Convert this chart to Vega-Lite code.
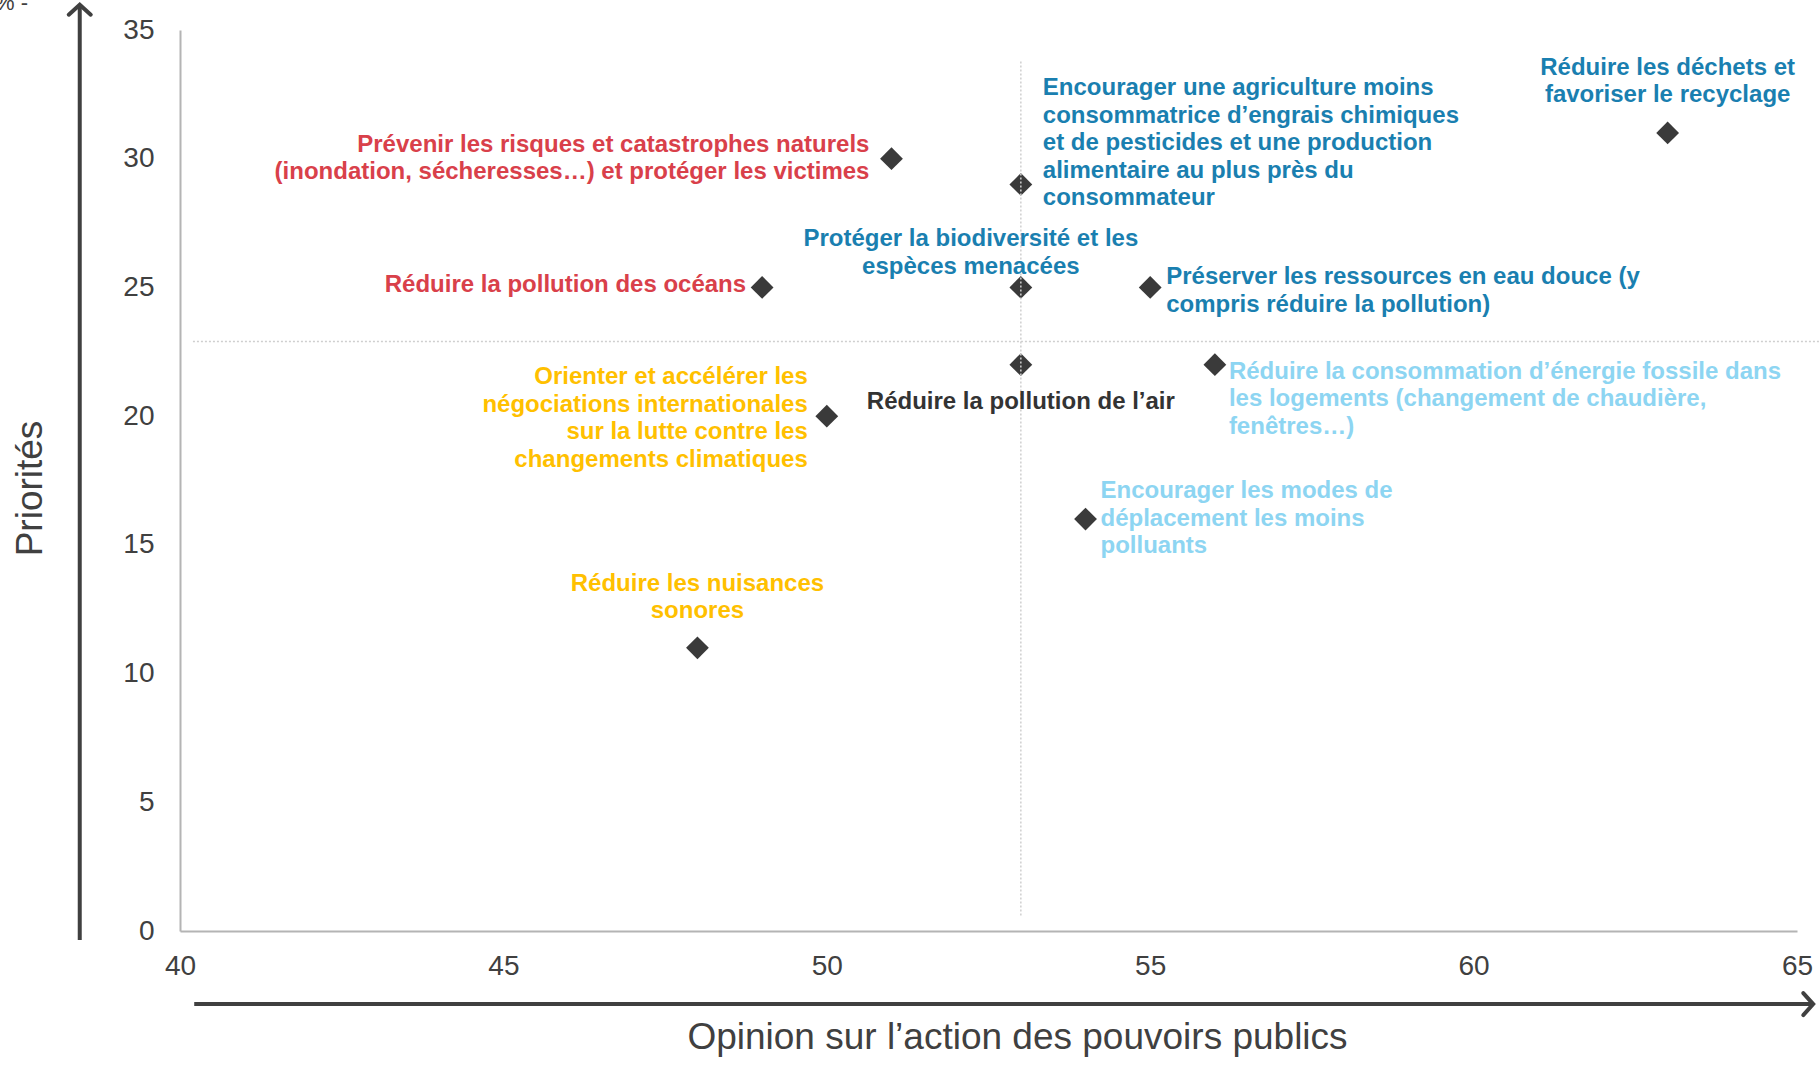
{
  "$schema": "https://vega.github.io/schema/vega-lite/v6.json",
  "autosize": {"type": "none"},
  "width": 1617,
  "height": 901,
  "padding": {"left": 180, "top": 30, "right": 22, "bottom": 134},
  "background": "white",
  "config": {"view": {"stroke": null}, "font": "Liberation Sans"},
  "datasets": {
    "points": [
      {"id": 1, "label": "Prévenir les risques et catastrophes naturels\n(inondation, sécheresses…) et protéger les victimes", "opinion": 51, "priorite": 30, "groupe": "Risques"},
      {"id": 2, "label": "Encourager une agriculture moins\nconsommatrice d’engrais chimiques\net de pesticides et une production\nalimentaire au plus près du\nconsommateur", "opinion": 53, "priorite": 29, "groupe": "Ressources"},
      {"id": 3, "label": "Réduire les déchets et\nfavoriser le recyclage", "opinion": 63, "priorite": 31, "groupe": "Ressources"},
      {"id": 4, "label": "Réduire la pollution des océans", "opinion": 49, "priorite": 25, "groupe": "Risques"},
      {"id": 5, "label": "Protéger la biodiversité et les\nespèces menacées", "opinion": 53, "priorite": 25, "groupe": "Ressources"},
      {"id": 6, "label": "Préserver les ressources en eau douce (y\ncompris réduire la pollution)", "opinion": 55, "priorite": 25, "groupe": "Ressources"},
      {"id": 7, "label": "Réduire la pollution de l’air", "opinion": 53, "priorite": 22, "groupe": "Air"},
      {"id": 8, "label": "Réduire la consommation d’énergie fossile dans\nles logements (changement de chaudière,\nfenêtres…)", "opinion": 56, "priorite": 22, "groupe": "Énergie"},
      {"id": 9, "label": "Orienter et accélérer les\nnégociations internationales\nsur la lutte contre les\nchangements climatiques", "opinion": 50, "priorite": 20, "groupe": "Climat"},
      {"id": 10, "label": "Encourager les modes de\ndéplacement les moins\npolluants", "opinion": 54, "priorite": 16, "groupe": "Énergie"},
      {"id": 11, "label": "Réduire les nuisances\nsonores", "opinion": 48, "priorite": 11, "groupe": "Climat"}
    ],
    "reperes": [
      {"opinion": 53, "opinion2": 53, "priorite": 0.6, "priorite2": 33.8},
      {"opinion": 40.2, "opinion2": 65.35, "priorite": 22.9, "priorite2": 22.9}
    ],
    "fleches": [
      {"opinion": 38.45, "opinion2": 38.45, "priorite": -0.35, "priorite2": 35.9},
      {"opinion": 40.22, "opinion2": 65.23, "priorite": -2.84, "priorite2": -2.84}
    ],
    "pointes": [
      {"opinion": 38.45, "priorite": 35.98, "sens": "haut"},
      {"opinion": 65.25, "priorite": -2.84, "sens": "droite"}
    ],
    "unite": [
      {"opinion": 37.14, "priorite": 35.78, "texte": "% -"}
    ]
  },
  "layer": [
    {
      "data": {"name": "points"},
      "mark": {"type": "point", "shape": "diamond", "filled": true, "size": 520, "color": "#3A3A3A", "opacity": 1},
      "encoding": {
        "x": {"field": "opinion", "type": "quantitative", "title": "Opinion sur l’action des pouvoirs publics",
          "scale": {"domain": [40, 65], "nice": false, "zero": false},
          "axis": {"values": [40, 45, 50, 55, 60, 65], "format": "d", "grid": false, "ticks": false, "tickSize": 0, "domainColor": "#B4B4B4", "domainWidth": 2,
            "labelFont": "Liberation Sans", "labelFontSize": 28, "labelColor": "#404040", "labelPadding": 21, "labelFlush": false, "labelOverlap": false,
            "titleFont": "Liberation Sans", "titleFontSize": 37, "titleFontWeight": "normal", "titleColor": "#404040",
            "titleX": 837, "titleY": 106, "titleAlign": "center", "titleBaseline": "middle", "titleAnchor": null}},
        "y": {"field": "priorite", "type": "quantitative", "title": "Priorités",
          "scale": {"domain": [0, 35], "nice": false, "zero": false},
          "axis": {"values": [0, 5, 10, 15, 20, 25, 30, 35], "format": "d", "grid": false, "ticks": false, "tickSize": 0, "domainColor": "#B4B4B4", "domainWidth": 2,
            "labelFont": "Liberation Sans", "labelFontSize": 28, "labelColor": "#404040", "labelPadding": 26, "labelFlush": false, "labelOverlap": false,
            "titleFont": "Liberation Sans", "titleFontSize": 37, "titleFontWeight": "normal", "titleColor": "#404040",
            "titleX": -150, "titleY": 458, "titleAngle": -90, "titleAlign": "center", "titleBaseline": "middle", "titleAnchor": null}}
      }
    },
    {
      "data": {"name": "reperes"},
      "mark": {"type": "rule", "color": "#CFCFCF", "strokeWidth": 1.5, "strokeDash": [2, 2]},
      "encoding": {
        "x": {"field": "opinion", "type": "quantitative", "title": "Opinion sur l’action des pouvoirs publics"},
        "x2": {"field": "opinion2"},
        "y": {"field": "priorite", "type": "quantitative", "title": "Priorités"},
        "y2": {"field": "priorite2"}
      }
    },
    {
      "data": {"name": "fleches"},
      "mark": {"type": "rule", "color": "#404040", "strokeWidth": 4},
      "encoding": {
        "x": {"field": "opinion", "type": "quantitative", "title": "Opinion sur l’action des pouvoirs publics"},
        "x2": {"field": "opinion2"},
        "y": {"field": "priorite", "type": "quantitative", "title": "Priorités"},
        "y2": {"field": "priorite2"}
      }
    },
    {
      "data": {"name": "pointes"},
      "mark": {"type": "point", "filled": false, "size": 484, "strokeWidth": 4, "color": "#404040", "opacity": 1, "strokeCap": "round"},
      "encoding": {
        "x": {"field": "opinion", "type": "quantitative", "title": "Opinion sur l’action des pouvoirs publics"},
        "y": {"field": "priorite", "type": "quantitative", "title": "Priorités"},
        "shape": {"field": "sens", "type": "nominal", "legend": null,
          "scale": {"domain": ["haut", "droite"], "range": ["M-1,0.9L0,0L1,0.9", "M-0.9,-1L0,0L-0.9,1"]}}
      }
    },
    {
      "data": {"name": "unite"},
      "mark": {"type": "text", "align": "left", "baseline": "alphabetic", "fontSize": 22, "color": "#404040", "font": "Liberation Sans"},
      "encoding": {
        "x": {"field": "opinion", "type": "quantitative", "title": "Opinion sur l’action des pouvoirs publics"},
        "y": {"field": "priorite", "type": "quantitative", "title": "Priorités"},
        "text": {"field": "texte"}
      }
    },
    {"data": {"name": "points"}, "transform": [{"filter": "datum.id == 1"}],
     "mark": {"type": "text", "align": "right", "baseline": "middle", "dx": -22, "dy": -14, "fontSize": 24, "fontWeight": "bold", "lineHeight": 27.5, "lineBreak": "\n", "font": "Liberation Sans"},
     "encoding": {"x": {"field": "opinion", "type": "quantitative"}, "y": {"field": "priorite", "type": "quantitative"}, "text": {"field": "label"},
       "color": {"field": "groupe", "type": "nominal", "legend": null, "scale": {"domain": ["Risques", "Ressources", "Air", "Énergie", "Climat"], "range": ["#D9404A", "#1A7FB0", "#333333", "#8DD5F2", "#FFC000"]}}}},
    {"data": {"name": "points"}, "transform": [{"filter": "datum.id == 2"}],
     "mark": {"type": "text", "align": "left", "baseline": "middle", "dx": 22, "dy": -96, "fontSize": 24, "fontWeight": "bold", "lineHeight": 27.5, "lineBreak": "\n", "font": "Liberation Sans"},
     "encoding": {"x": {"field": "opinion", "type": "quantitative"}, "y": {"field": "priorite", "type": "quantitative"}, "text": {"field": "label"},
       "color": {"field": "groupe", "type": "nominal", "legend": null}}},
    {"data": {"name": "points"}, "transform": [{"filter": "datum.id == 3"}],
     "mark": {"type": "text", "align": "center", "baseline": "middle", "dx": 0, "dy": -65, "fontSize": 24, "fontWeight": "bold", "lineHeight": 27.5, "lineBreak": "\n", "font": "Liberation Sans"},
     "encoding": {"x": {"field": "opinion", "type": "quantitative"}, "y": {"field": "priorite", "type": "quantitative"}, "text": {"field": "label"},
       "color": {"field": "groupe", "type": "nominal", "legend": null}}},
    {"data": {"name": "points"}, "transform": [{"filter": "datum.id == 4"}],
     "mark": {"type": "text", "align": "right", "baseline": "middle", "dx": -16, "dy": -2, "fontSize": 24, "fontWeight": "bold", "lineHeight": 27.5, "lineBreak": "\n", "font": "Liberation Sans"},
     "encoding": {"x": {"field": "opinion", "type": "quantitative"}, "y": {"field": "priorite", "type": "quantitative"}, "text": {"field": "label"},
       "color": {"field": "groupe", "type": "nominal", "legend": null}}},
    {"data": {"name": "points"}, "transform": [{"filter": "datum.id == 5"}],
     "mark": {"type": "text", "align": "center", "baseline": "middle", "dx": -50, "dy": -48, "fontSize": 24, "fontWeight": "bold", "lineHeight": 27.5, "lineBreak": "\n", "font": "Liberation Sans"},
     "encoding": {"x": {"field": "opinion", "type": "quantitative"}, "y": {"field": "priorite", "type": "quantitative"}, "text": {"field": "label"},
       "color": {"field": "groupe", "type": "nominal", "legend": null}}},
    {"data": {"name": "points"}, "transform": [{"filter": "datum.id == 6"}],
     "mark": {"type": "text", "align": "left", "baseline": "middle", "dx": 16, "dy": -10, "fontSize": 24, "fontWeight": "bold", "lineHeight": 27.5, "lineBreak": "\n", "font": "Liberation Sans"},
     "encoding": {"x": {"field": "opinion", "type": "quantitative"}, "y": {"field": "priorite", "type": "quantitative"}, "text": {"field": "label"},
       "color": {"field": "groupe", "type": "nominal", "legend": null}}},
    {"data": {"name": "points"}, "transform": [{"filter": "datum.id == 7"}],
     "mark": {"type": "text", "align": "center", "baseline": "middle", "dx": 0, "dy": 37, "fontSize": 24, "fontWeight": "bold", "lineHeight": 27.5, "lineBreak": "\n", "font": "Liberation Sans"},
     "encoding": {"x": {"field": "opinion", "type": "quantitative"}, "y": {"field": "priorite", "type": "quantitative"}, "text": {"field": "label"},
       "color": {"field": "groupe", "type": "nominal", "legend": null}}},
    {"data": {"name": "points"}, "transform": [{"filter": "datum.id == 8"}],
     "mark": {"type": "text", "align": "left", "baseline": "middle", "dx": 14, "dy": 7, "fontSize": 24, "fontWeight": "bold", "lineHeight": 27.5, "lineBreak": "\n", "font": "Liberation Sans"},
     "encoding": {"x": {"field": "opinion", "type": "quantitative"}, "y": {"field": "priorite", "type": "quantitative"}, "text": {"field": "label"},
       "color": {"field": "groupe", "type": "nominal", "legend": null}}},
    {"data": {"name": "points"}, "transform": [{"filter": "datum.id == 9"}],
     "mark": {"type": "text", "align": "right", "baseline": "middle", "dx": -19, "dy": -39, "fontSize": 24, "fontWeight": "bold", "lineHeight": 27.5, "lineBreak": "\n", "font": "Liberation Sans"},
     "encoding": {"x": {"field": "opinion", "type": "quantitative"}, "y": {"field": "priorite", "type": "quantitative"}, "text": {"field": "label"},
       "color": {"field": "groupe", "type": "nominal", "legend": null}}},
    {"data": {"name": "points"}, "transform": [{"filter": "datum.id == 10"}],
     "mark": {"type": "text", "align": "left", "baseline": "middle", "dx": 15, "dy": -28, "fontSize": 24, "fontWeight": "bold", "lineHeight": 27.5, "lineBreak": "\n", "font": "Liberation Sans"},
     "encoding": {"x": {"field": "opinion", "type": "quantitative"}, "y": {"field": "priorite", "type": "quantitative"}, "text": {"field": "label"},
       "color": {"field": "groupe", "type": "nominal", "legend": null}}},
    {"data": {"name": "points"}, "transform": [{"filter": "datum.id == 11"}],
     "mark": {"type": "text", "align": "center", "baseline": "middle", "dx": 0, "dy": -64, "fontSize": 24, "fontWeight": "bold", "lineHeight": 27.5, "lineBreak": "\n", "font": "Liberation Sans"},
     "encoding": {"x": {"field": "opinion", "type": "quantitative"}, "y": {"field": "priorite", "type": "quantitative"}, "text": {"field": "label"},
       "color": {"field": "groupe", "type": "nominal", "legend": null}}}
  ]
}
